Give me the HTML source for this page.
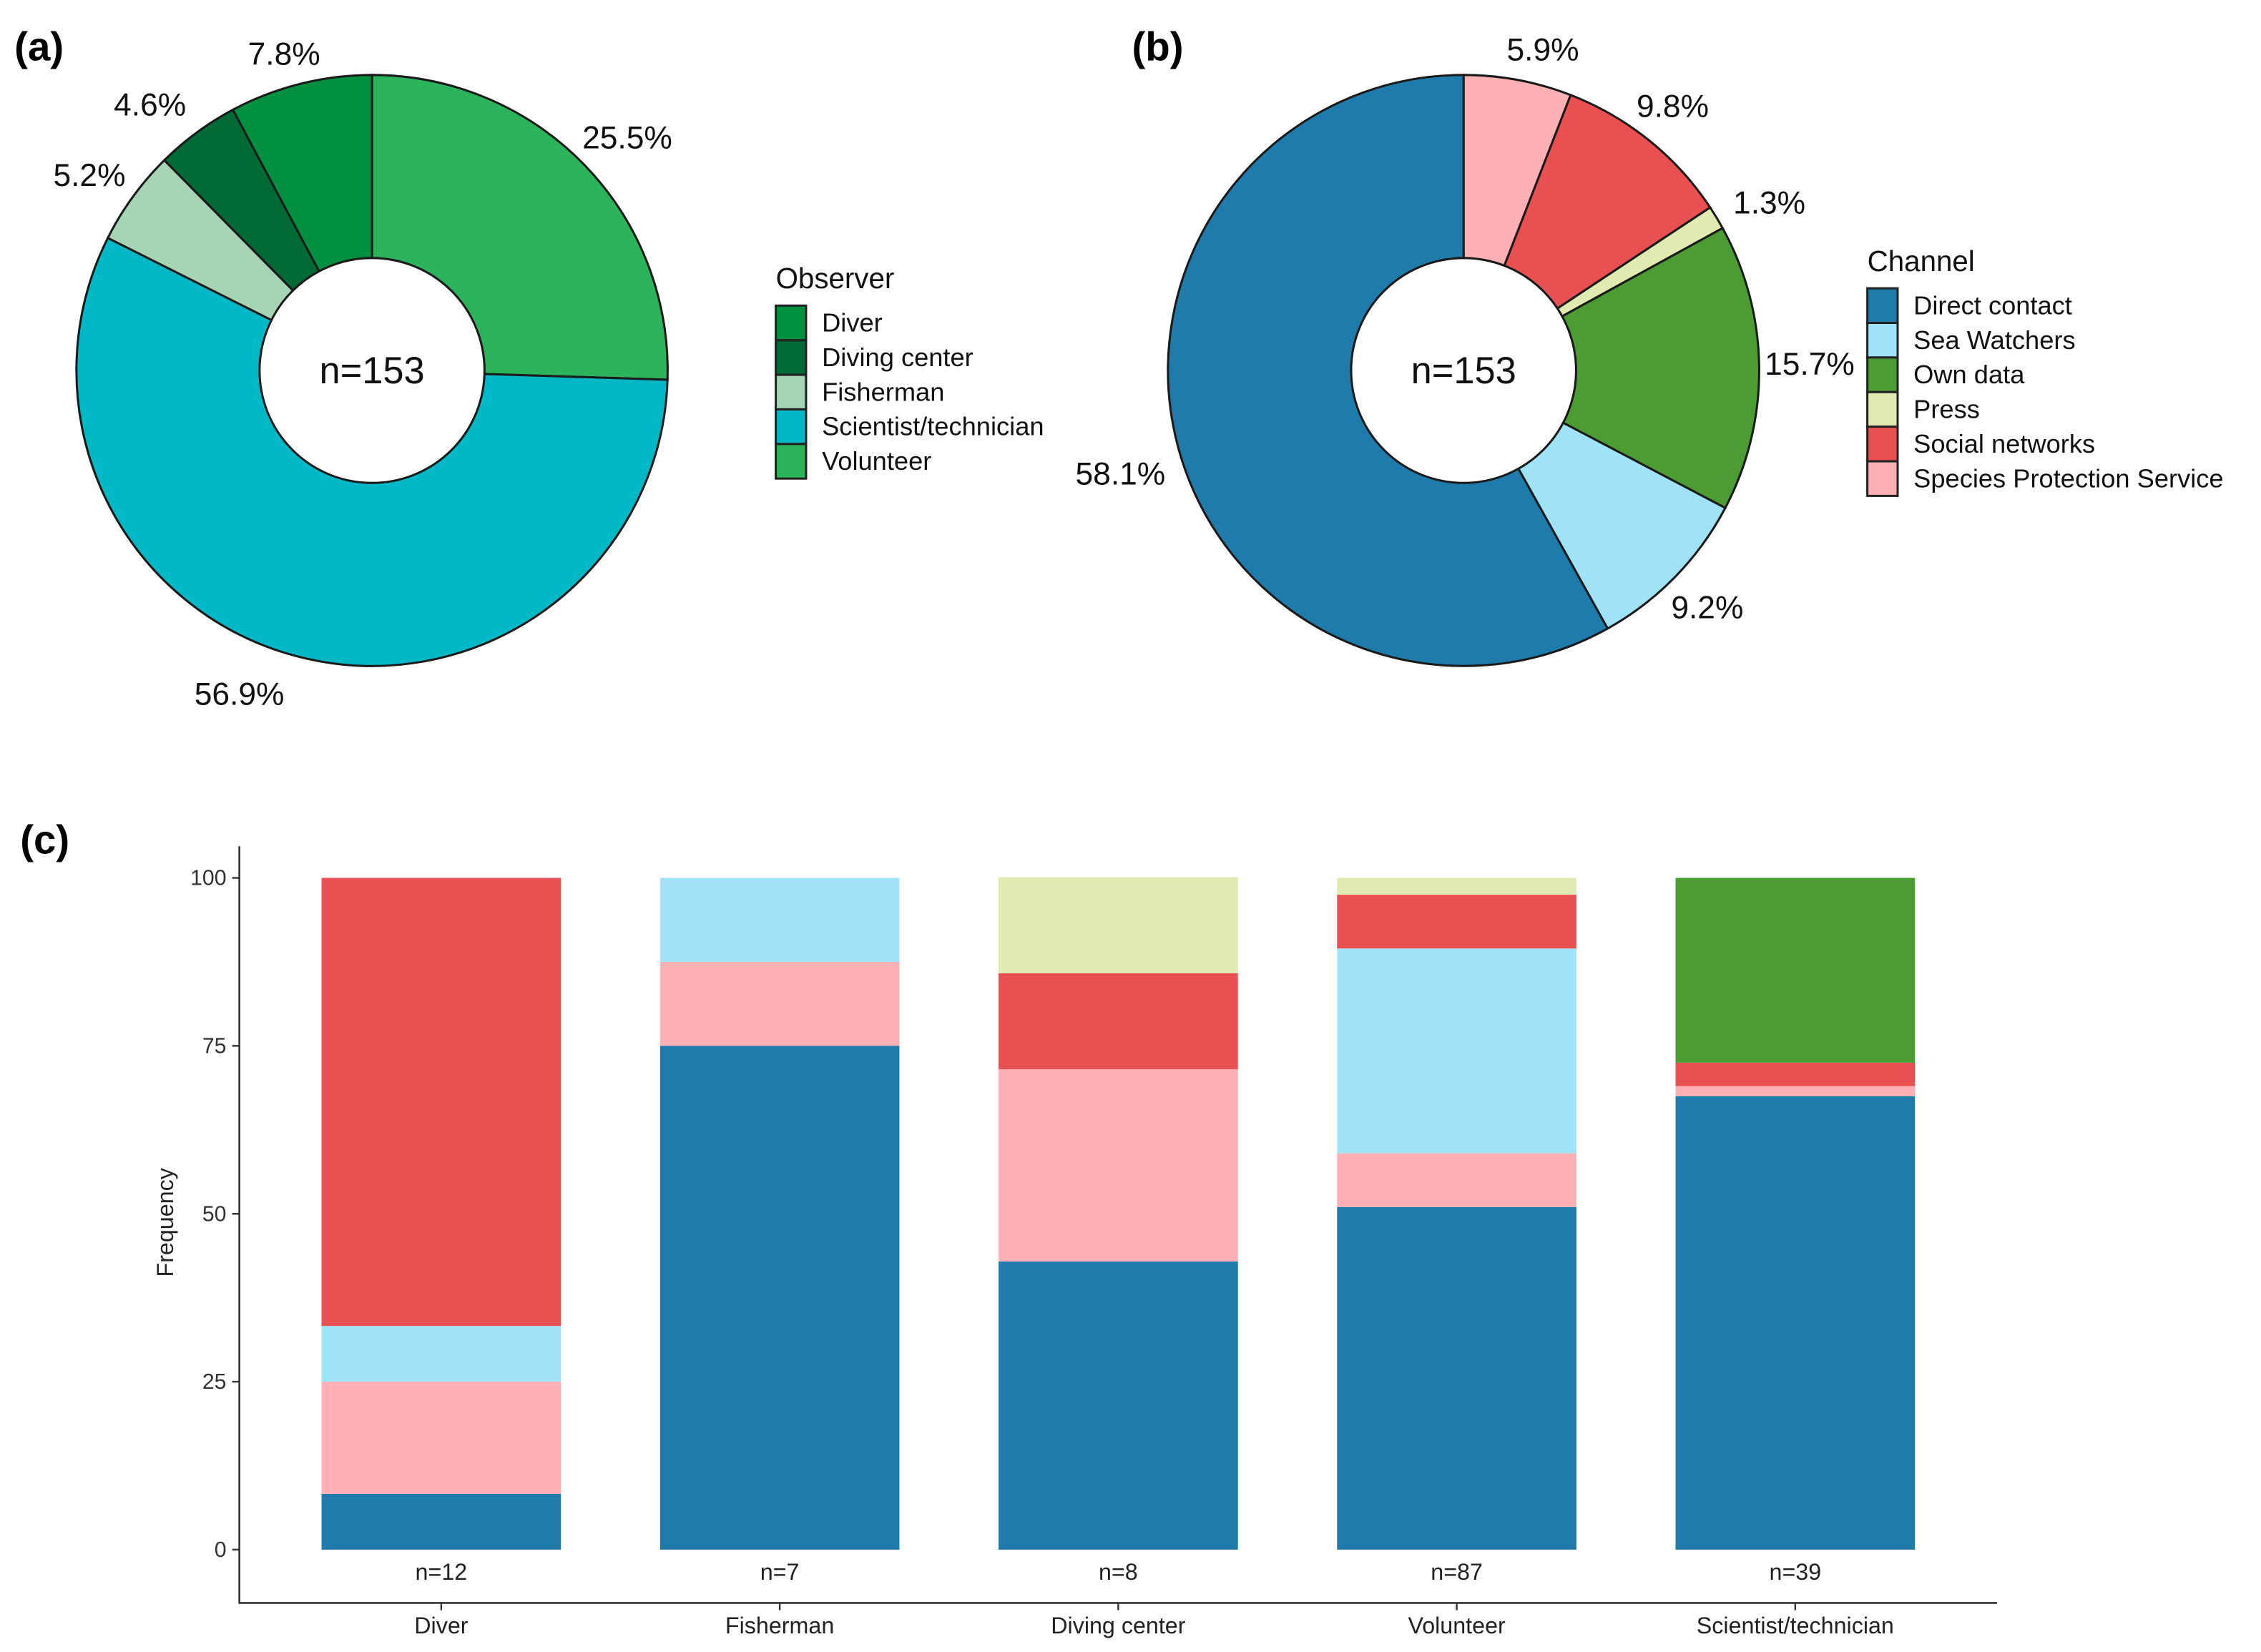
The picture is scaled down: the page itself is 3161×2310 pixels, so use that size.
<!DOCTYPE html>
<html><head><meta charset="utf-8"><style>
html,body{margin:0;padding:0;background:#fff;}
svg{display:block;font-family:"Liberation Sans",sans-serif;}
</style></head><body>
<svg id="fig" width="3161" height="2310" viewBox="0 0 1568 1146" preserveAspectRatio="none" xmlns="http://www.w3.org/2000/svg">
<rect width="1568" height="1146" fill="#fff"/>
<text x="10" y="42" font-size="28" font-weight="bold">(a)</text>
<text x="785" y="42" font-size="28" font-weight="bold">(b)</text>
<text x="14" y="592" font-size="28" font-weight="bold">(c)</text>
<g id="pieA"></g>
<g id="pieB"></g>
<g id="legA"></g>
<g id="legB"></g>
<g id="bars"></g>
</svg>
<script>
// Pie (a) data, clockwise from 12 o'clock
const obsNames = ["Volunteer","Scientist/technician","Fisherman","Diving center","Diver"];
const obsValues = [25.5,56.9,5.2,4.6,7.8];
const obsColors = ["#2bb45c","#00b8c6","#a6d4b5","#006a35","#00903f"];
const obsLabelPos = [[435,95],[166,481],[62,121],[104,72],[197,37]];
// Pie (b) data
const chNames = ["Species Protection Service","Social networks","Press","Own data","Sea Watchers","Direct contact"];
const chValues = [5.9,9.8,1.3,15.7,9.2,58.1];
const chColors = ["#ffb0b5","#e95052","#dfebb1","#4a9c33","#a0e3f8","#1f7bab"];
const chLabelPos = [[1070,34],[1160,73],[1227,140],[1255,252],[1184,421],[777,328]];
// Legends
const obsLegend = ["Diver","Diving center","Fisherman","Scientist/technician","Volunteer"];
const obsLegendColors = ["#00903f","#006a35","#a6d4b5","#00b8c6","#2bb45c"];
const chLegend = ["Direct contact","Sea Watchers","Own data","Press","Social networks","Species Protection Service"];
const chLegendColors = ["#1f7bab","#a0e3f8","#4a9c33","#dfebb1","#e95052","#ffb0b5"];
// Bar chart (c)
const categories = ["Diver","Fisherman","Diving center","Volunteer","Scientist/technician"];
const nLabels = ["n=12","n=7","n=8","n=87","n=39"];
const stackSeries = ["Direct contact","Species Protection Service","Sea Watchers","Social networks","Press","Own data"];
const directContact = [8.3,75,42.9,51,67.5];
const speciesProtection = [16.7,12.5,28.6,8,1.5];
const seaWatchers = [8.3,12.5,0,30.5,0];
const socialNetworks = [66.7,0,14.3,8,3.5];
const press = [0,0,14.3,2.5,0];
const ownData = [0,0,0,0,27.5];
const yTicks = [0,25,50,75,100];
const seriesColors = ["#1f7bab","#ffb0b5","#a0e3f8","#e95052","#dfebb1","#4a9c33"];

const NS="http://www.w3.org/2000/svg";
function mk(tag,attrs,parent){const e=document.createElementNS(NS,tag);for(const k in attrs)e.setAttribute(k,attrs[k]);parent.appendChild(e);return e;}

function donut(gid,cx,cy,R,r,vals,cols,names,lpos,prefix){
  const g=document.getElementById(gid);
  const tot=vals.reduce((a,b)=>a+b,0);
  let a0=0;
  vals.forEach((v,i)=>{
    const a1=a0+v/tot*2*Math.PI;
    const p=(a,rr)=>[cx+rr*Math.sin(a),cy-rr*Math.cos(a)];
    const [x0,y0]=p(a0,R),[x1,y1]=p(a1,R);
    const large=(a1-a0)>Math.PI?1:0;
    const d=`M${cx},${cy} L${x0},${y0} A${R},${R} 0 ${large} 1 ${x1},${y1} Z`;
    const s=mk("path",{d:d,fill:cols[i],stroke:"#1a1a1a","stroke-width":1.5},g);
    
    
    const t=mk("text",{x:lpos[i][0],y:lpos[i][1]+8,"font-size":22,"text-anchor":"middle",fill:"#111"},g);
    t.textContent=v.toFixed(1)+"%";
    
    
    a0=a1;
  });
  const c=mk("circle",{cx:cx,cy:cy,r:r,fill:"#fff",stroke:"#1a1a1a","stroke-width":1.5},g);
  
  
  const t=mk("text",{x:cx,y:cy+9,"font-size":26,"text-anchor":"middle",fill:"#111"},g);
  t.textContent="n=153";
  
  
}
donut("pieA",258,257,205,78,obsValues,obsColors,obsNames,obsLabelPos,"observer");
donut("pieB",1015,257,205,78,chValues,chColors,chNames,chLabelPos,"channel");

function legend(gid,x,ty,title,names,cols,prefix){
  const g=document.getElementById(gid);
  const t=mk("text",{x:x,y:ty,"font-size":20,fill:"#111"},g);
  t.textContent=title;
  
  
  names.forEach((n,i)=>{
    const y=ty+12+i*24;
    const r=mk("rect",{x:x,y:y,width:21,height:24,fill:cols[i],stroke:"#222","stroke-width":1.5},g);
    
    
    const tx=mk("text",{x:x+32,y:y+18,"font-size":18,fill:"#111"},g);
    tx.textContent=n;
    
    
  });
}
legend("legA",538,200,"Observer",obsLegend,obsLegendColors,"observer");
legend("legB",1295,188,"Channel",chLegend,chLegendColors,"channel");

// bar chart
(function(){
  const g=document.getElementById("bars");
  const y0=1075,y100=609;
  const ys=v=>y0-(v/100)*(y0-y100);
  const x0=306,step=234.75,bw=166;
  const xs=i=>x0+i*step;
  const series=[directContact,speciesProtection,seaWatchers,socialNetworks,press,ownData];
  categories.forEach((c,i)=>{
    let acc=0;
    series.forEach((s,k)=>{
      const v=s[i]; if(v<=0) return;
      const r=mk("rect",{x:xs(i)-bw/2,y:ys(acc+v),width:bw,height:ys(acc)-ys(acc+v),fill:seriesColors[k]},g);
      
      
      acc+=v;
    });
    const n=mk("text",{x:xs(i),y:1096,"font-size":16,"text-anchor":"middle",fill:"#222"},g);
    n.textContent=nLabels[i];
    
    
    const tk=mk("line",{x1:xs(i),x2:xs(i),y1:1112,y2:1117,stroke:"#333","stroke-width":1.2},g);
    
    
    const cl=mk("text",{x:xs(i),y:1133,"font-size":16,"text-anchor":"middle",fill:"#222"},g);
    cl.textContent=c;
    
    
  });
  yTicks.forEach(v=>{
    const l=mk("line",{x1:161,x2:166,y1:ys(v),y2:ys(v),stroke:"#333","stroke-width":1.2},g);
    
    
    const t=mk("text",{x:157,y:ys(v)+5,"font-size":15,"text-anchor":"end",fill:"#333"},g);
    t.textContent=v;
    
    
  });
  const ax=mk("path",{d:"M166,587 L166,1112 L1385,1112",fill:"none",stroke:"#333","stroke-width":1.3},g);
  
  
  const yt=mk("text",{x:0,y:0,"font-size":16,"text-anchor":"middle",fill:"#222",transform:"translate(120,848) rotate(-90)"},g);
  yt.textContent="Frequency";
  
  
})();
</script>
</body></html>
